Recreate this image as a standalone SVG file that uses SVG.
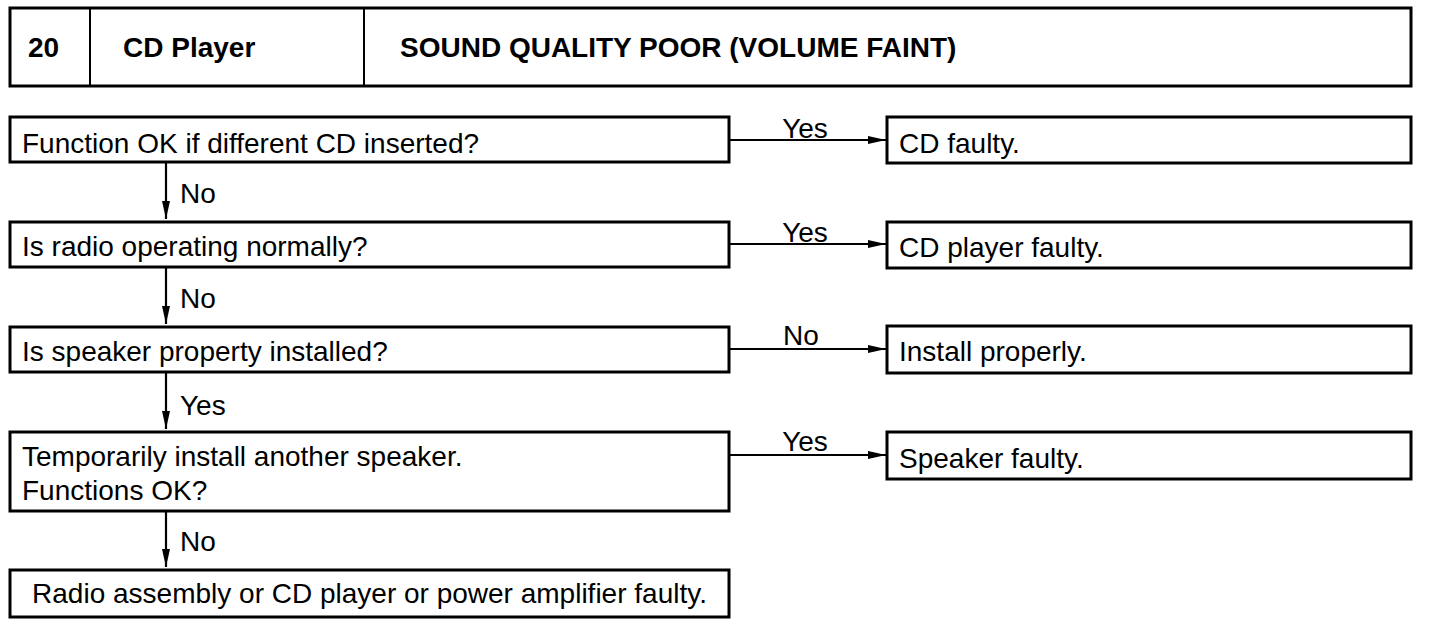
<svg xmlns="http://www.w3.org/2000/svg" width="1440" height="626" viewBox="0 0 1440 626">
<style>
.box{fill:#fff;stroke:#000;stroke-width:3}
.t{font-family:"Liberation Sans",Arial,sans-serif;font-size:28px;fill:#000}
.b{font-weight:bold}
.c{stroke:#000;stroke-width:2.2;fill:none}
</style>
<defs>
<marker id="ah" markerUnits="userSpaceOnUse" markerWidth="18" markerHeight="10" refX="18" refY="5" orient="auto">
<path d="M0,1 L18,5 L0,9 Z" fill="#000"/>
</marker>
</defs>
<rect width="1440" height="626" fill="#fff"/>
<g id="header">
<rect class="box" x="10" y="8" width="1401" height="78"/>
<line x1="90" y1="8" x2="90" y2="86" stroke="#000" stroke-width="2"/>
<line x1="364" y1="8" x2="364" y2="86" stroke="#000" stroke-width="2"/>
<text class="t b" x="28" y="57">20</text>
<text class="t b" x="123" y="57">CD Player</text>
<text class="t b" x="400" y="57">SOUND QUALITY POOR (VOLUME FAINT)</text>
</g>
<g id="q1">
<rect class="box" x="10" y="117" width="719" height="45"/>
<text class="t" x="22" y="153">Function OK if different CD inserted?</text>
</g>
<g id="q2">
<rect class="box" x="10" y="222" width="719" height="45"/>
<text class="t" x="22" y="256">Is radio operating normally?</text>
</g>
<g id="q3">
<rect class="box" x="10" y="327" width="719" height="45"/>
<text class="t" x="22" y="361">Is speaker property installed?</text>
</g>
<g id="q4">
<rect class="box" x="10" y="432" width="719" height="79"/>
<text class="t" x="22" y="466">Temporarily install another speaker.</text>
<text class="t" x="22" y="500">Functions OK?</text>
</g>
<g id="r5">
<rect class="box" x="10" y="570" width="719" height="47"/>
<text class="t" x="369.5" y="603" text-anchor="middle">Radio assembly or CD player or power amplifier faulty.</text>
</g>
<g id="r1">
<rect class="box" x="887" y="117" width="524" height="46"/>
<text class="t" x="899" y="153">CD faulty.</text>
</g>
<g id="r2">
<rect class="box" x="887" y="222" width="524" height="46"/>
<text class="t" x="899" y="257">CD player faulty.</text>
</g>
<g id="r3">
<rect class="box" x="887" y="326" width="524" height="47"/>
<text class="t" x="899" y="361">Install properly.</text>
</g>
<g id="r4">
<rect class="box" x="887" y="432" width="524" height="47"/>
<text class="t" x="899" y="468">Speaker faulty.</text>
</g>
<g id="connectors">
<line class="c" x1="729" y1="140" x2="886" y2="140" marker-end="url(#ah)"/>
<line class="c" x1="729" y1="244" x2="886" y2="244" marker-end="url(#ah)"/>
<line class="c" x1="729" y1="349" x2="886" y2="349" marker-end="url(#ah)"/>
<line class="c" x1="729" y1="455" x2="886" y2="455" marker-end="url(#ah)"/>
<line class="c" x1="166" y1="162" x2="166" y2="219" marker-end="url(#ah)"/>
<line class="c" x1="166" y1="267" x2="166" y2="324" marker-end="url(#ah)"/>
<line class="c" x1="166" y1="372" x2="166" y2="429" marker-end="url(#ah)"/>
<line class="c" x1="166" y1="511" x2="166" y2="567" marker-end="url(#ah)"/>
<text class="t" x="805" y="138" text-anchor="middle">Yes</text>
<text class="t" x="805" y="242" text-anchor="middle">Yes</text>
<text class="t" x="801" y="345" text-anchor="middle">No</text>
<text class="t" x="805" y="451" text-anchor="middle">Yes</text>
<text class="t" x="180" y="203">No</text>
<text class="t" x="180" y="308">No</text>
<text class="t" x="180" y="415">Yes</text>
<text class="t" x="180" y="551">No</text>
</g>
</svg>
